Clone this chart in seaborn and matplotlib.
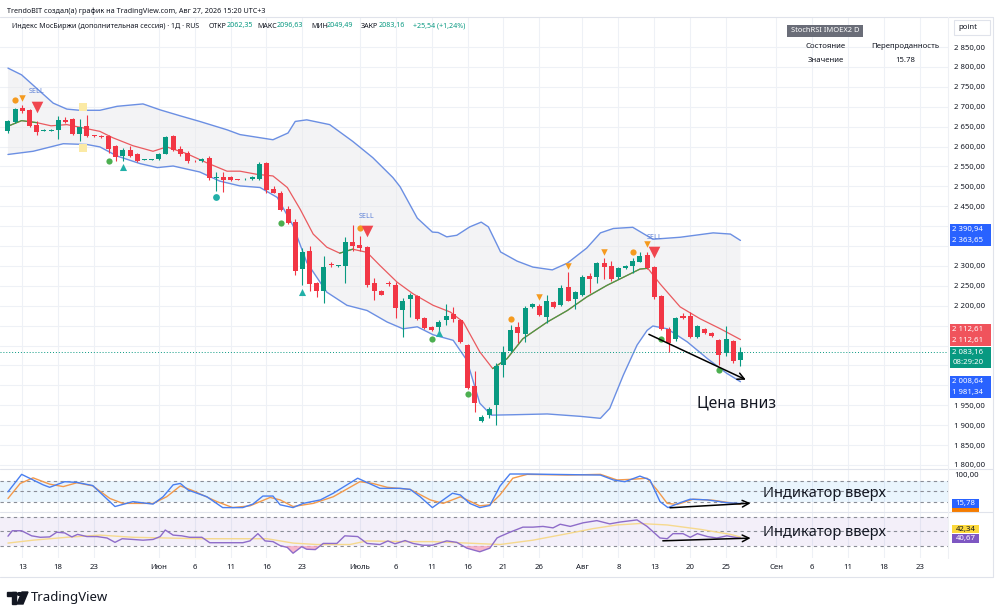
import numpy as np
import matplotlib
matplotlib.use('Agg')
import matplotlib.pyplot as plt
import seaborn as sns
from matplotlib.patches import Rectangle, Circle, Polygon
from matplotlib.transforms import blended_transform_factory

W, H = 1000, 616

# ---------- daily candles, bar index 0..102 ----------
opens = [2638, 2662, 2696, 2692, 2653, 2640, 2640, 2642, 2667, 2670,
         2632, 2652, 2628, 2626, 2626, 2601, 2576, 2592, 2580, 2566,
         2566, 2569, 2582, 2627, 2594, 2584, 2564, 2563, 2572, 2520,
         2524, 2524, 2517, 2518, 2518, 2519, 2559, 2492, 2484, 2442,
         2411, 2292, 2337, 2257, 2236, 2304, 2300, 2301, 2359, 2352,
         2347, 2257, 2238, 2256, 2251, 2188, 2216, 2224, 2169, 2146,
         2147, 2163, 2179, 2165, 2102, 1999, 1911, 1926, 1951, 2051,
         2086, 2146, 2130, 2197, 2198, 2172, 2209, 2202, 2247, 2216,
         2227, 2274, 2272, 2307, 2299, 2272, 2294, 2301, 2311, 2327,
         2297, 2224, 2142, 2117, 2174, 2174, 2122, 2142, 2132, 2113,
         2080, 2111, 2062.35]
highs = [2666, 2697, 2705, 2695, 2663, 2643, 2643, 2676, 2674, 2672,
         2669, 2680, 2630, 2628, 2630, 2605, 2597, 2602, 2583, 2568,
         2568, 2583, 2627, 2629, 2602, 2588, 2566, 2570, 2576, 2536,
         2536, 2526, 2518, 2520, 2525, 2561, 2561, 2502, 2488, 2451,
         2417, 2344, 2351, 2259, 2326, 2309, 2303, 2372, 2402, 2376,
         2350, 2269, 2240, 2261, 2259, 2220, 2232, 2227, 2171, 2148,
         2163, 2205, 2197, 2167, 2104, 2036, 1925, 1945, 2055, 2098,
         2151, 2159, 2199, 2207, 2205, 2226, 2213, 2252, 2284, 2238,
         2276, 2282, 2311, 2319, 2313, 2298, 2303, 2319, 2334, 2336,
         2301, 2227, 2146, 2172, 2182, 2184, 2152, 2145, 2134, 2117,
         2149, 2114, 2096.63]
lows = [2634, 2660, 2684, 2650, 2630, 2638, 2638, 2619, 2659, 2630,
        2613, 2624, 2625, 2622, 2584, 2563, 2563, 2574, 2560, 2565,
        2565, 2567, 2580, 2588, 2576, 2559, 2562, 2562, 2516, 2488,
        2486, 2514, 2515, 2517, 2516, 2517, 2482, 2482, 2438, 2405,
        2276, 2251, 2238, 2222, 2207, 2297, 2298, 2257, 2338, 2338,
        2247, 2215, 2226, 2250, 2169, 2122, 2172, 2163, 2141, 2137,
        2134, 2151, 2159, 2107, 1991, 1934, 1908, 1919, 1901, 2022,
        2084, 2107, 2109, 2194, 2174, 2157, 2195, 2199, 2211, 2191,
        2224, 2232, 2258, 2266, 2263, 2268, 2292, 2282, 2309, 2292,
        2217, 2138, 2084, 2111, 2166, 2119, 2118, 2130, 2122, 2051,
        2074, 2055, 2049.49]
closes = [2663, 2694, 2690, 2651, 2636, 2642, 2642, 2667, 2662, 2632,
          2649, 2627, 2626, 2624, 2594, 2574, 2591, 2577, 2563, 2567,
          2567, 2581, 2624, 2590, 2582, 2563, 2563, 2569, 2522, 2523,
          2517, 2516, 2516, 2519, 2523, 2557, 2490, 2484, 2441, 2407,
          2288, 2336, 2255, 2236, 2297, 2302, 2302, 2361, 2351, 2344,
          2251, 2236, 2228, 2254, 2195, 2213, 2226, 2167, 2144, 2139,
          2159, 2174, 2167, 2109, 1994, 1955, 1921, 1941, 2048, 2084,
          2140, 2132, 2194, 2205, 2176, 2211, 2197, 2245, 2213, 2234,
          2272, 2266, 2307, 2297, 2267, 2294, 2301, 2313, 2326, 2294,
          2222, 2142, 2107, 2169, 2169, 2122, 2149, 2132, 2124, 2077,
          2116, 2061, 2083.16]

# ---------- date axis ----------
tick_pos = [2, 7, 12, 21, 26, 31, 36, 41, 49, 54, 59, 64, 69, 74, 80, 85, 90,
            95, 100, 107, 112, 117, 122, 127]
tick_labels = ['13', '18', '23', 'Июн', '6', '11', '16', '23', 'Июль', '6', '11',
               '16', '21', '26', 'Авг', '8', '13', '20', '25', 'Сен', '6', '11',
               '18', '23']
month_labels = ['Июн', 'Июль', 'Авг', 'Сен']
price_ticks = [1800, 1850, 1900, 1950, 2200, 2250, 2300, 2450, 2500, 2550, 2600,
               2650, 2700, 2750, 2800, 2850]  # the rest sit under the value boxes

# ---------- bollinger bands / middle line (vertices) ----------
bb_up_x = [0, 1.9, 4.5, 6.3, 8.2, 10, 12.8, 15.2, 18.8, 21.2, 24, 26.7, 30.5, 32.3,
           36.9, 39, 40, 41.6, 44.8, 48, 50.8, 53.6, 54.6, 57, 59.1, 59.9, 61.1,
           62.5, 64.3, 65.9, 66.9, 68.6, 70.9, 73.1, 75.8, 77.9, 80.6, 82.5, 84.3,
           87, 89.8, 93.6, 98.2, 100.6, 102]
bb_up_y = [2797, 2780, 2738, 2709, 2694, 2691, 2691, 2701, 2707, 2692, 2677, 2663,
           2642, 2630, 2617, 2634, 2663, 2667, 2655, 2613, 2572, 2522, 2499, 2420,
           2385, 2384, 2373, 2377, 2398, 2410, 2398, 2335, 2312, 2297, 2290, 2307,
           2345, 2383, 2394, 2397, 2367, 2372, 2383, 2380, 2364]
bb_lo_x = [0, 3.5, 7.7, 11, 12.8, 15.2, 18.4, 20.8, 23, 26.7, 29.5, 32.3, 35.1, 37.5,
           39.7, 41.6, 44.4, 47.2, 50, 52.8, 55, 57, 59.2, 62, 63.9, 65.7, 67.3,
           70.3, 75.1, 79.7, 82.5, 83.8, 85.7, 87.6, 89, 89.8, 91.8, 94.6, 97.4,
           100.1, 102]
bb_lo_y = [2580, 2588, 2607, 2605, 2599, 2576, 2557, 2547, 2551, 2536, 2513, 2501,
           2497, 2472, 2401, 2309, 2234, 2201, 2188, 2159, 2142, 2147, 2127, 2113,
           2063, 1955, 1925, 1926, 1928, 1922, 1917, 1942, 2026, 2101, 2138, 2149,
           2142, 2109, 2067, 2030, 2009]
mid_x = [0, 1.9, 4, 6, 8.2, 10.4, 12.8, 14.6, 17.4, 20.2, 22.1, 24.9, 27.7, 30.5,
         32.3, 34.7, 36.9, 38.9, 40.7, 42.5, 44.4, 46.2, 48, 50, 51.8, 54.2, 56.4,
         59.2, 61.6, 63.4, 65.7, 67.5, 69.5, 71.7, 75.1, 77.9, 80.6, 83.4, 86.2, 88,
         89.1, 90.8, 93.6, 96.4, 99.2, 102]
mid_y = [2651, 2665, 2660, 2652, 2655, 2647, 2638, 2622, 2602, 2588, 2599, 2582,
         2559, 2538, 2538, 2530, 2526, 2497, 2442, 2380, 2347, 2332, 2342, 2334,
         2301, 2259, 2230, 2201, 2184, 2159, 2084, 2042, 2067, 2117, 2159, 2188,
         2222, 2251, 2276, 2292, 2294, 2255, 2197, 2167, 2142, 2115]
mid_green_spans = [(0, 4), (46.2, 48), (67.5, 89.1)]

# ---------- signal markers (bar index, price) ----------
orange_dot_x = [1, 49, 70, 87]
orange_dot_y = [2717, 2395, 2167, 2334]
orange_tri_x = [2, 74, 78, 83, 89]
orange_tri_y = [2722, 2222, 2300, 2336, 2355]
sell_x = [4, 50, 90]
sell_y = [2700, 2387, 2334]
sell_text_y = [2737, 2425, 2372]
green_dot_x = [14, 38, 59, 64, 91, 99]
green_dot_y = [2563, 2407, 2117, 1977, 2117, 2038]
teal_tri_x = [16, 41, 60]
teal_tri_y = [2549, 2234, 2132]
teal_dot_x = [29]
teal_dot_y = [2472]
yellow_sq_x = [10.4, 10.4]
yellow_sq_y = [2700, 2597]

# ---------- StochRSI ----------
stoch_k_x = [0, 1.9, 4.9, 5.8, 7.9, 9.6, 11.8, 14.9, 17.4, 20.2, 21.6, 23, 24, 25.1,
             27.7, 29.9, 32.7, 34.1, 35.5, 36.9, 37.9, 39.7, 41.1, 43.5, 45.3, 48.7,
             51.8, 54.6, 56, 57.4, 59.1, 61.9, 63, 64.3, 65.7, 67.1, 68.5, 69.9, 72,
             82.5, 84.3, 85.9, 88, 89.4, 90.8, 91.9, 93.6, 95, 97.4, 100.1, 102]
stoch_k_y = [49, 99, 69, 62, 78, 76, 67, 7, 21, 14, 35, 69, 73, 54, 35, 4, 4, 14, 37,
             37, 12, 4, 16, 26, 45, 88, 59, 59, 56, 35, 4, 45, 40, 16, 4, 10, 65, 100,
             100, 97, 83, 78, 94, 83, 21, 4, 18, 28, 26, 18, 15.78]
stoch_d_x = [0, 1.7, 3.5, 5.8, 7.7, 9.6, 11.8, 14.2, 16, 20.2, 22.1, 24, 25.8, 29.1,
             31.3, 33.7, 36.5, 37.9, 39.7, 42.5, 45.3, 49, 50.8, 52.8, 56, 58.8, 60.6,
             63, 65.7, 67.1, 68.5, 70.3, 72.3, 77.9, 82.5, 84.8, 87, 89, 90.4, 91.8,
             93.2, 95.4, 98.2, 102]
stoch_d_y = [30, 73, 89, 71, 64, 75, 66, 30, 16, 16, 35, 66, 52, 21, 4, 9, 33, 26, 7,
             16, 35, 78, 73, 62, 56, 26, 16, 35, 9, 12, 40, 88, 99, 97, 99, 83, 85, 88,
             54, 16, 13, 28, 25, 13.32]

# ---------- RSI ----------
rsi_x = [0, 0.6, 1.9, 3.3, 4.5, 5.8, 6.8, 7.9, 8.9, 9.7, 11, 12.4, 13.8, 14.9, 15.9,
         17.4, 18.8, 20.2, 21.2, 21.9, 23, 24.2, 25.3, 27, 28.1, 32.7, 33.7, 34.8,
         35.8, 36.9, 37.9, 38.9, 39.7, 40.9, 41.6, 42.8, 43.9, 45.8, 46.9, 48.7, 50,
         51.8, 52.9, 53.9, 55.3, 56.4, 57.8, 59.1, 61.1, 62.5, 63.9, 65.7, 67.1,
         68.1, 68.5, 69.9, 71.7, 73.1, 74.5, 75.9, 76.9, 78.3, 80.1, 82, 83.8, 85.2,
         87.6, 89, 90.8, 91.8, 92.6, 94, 95, 96, 97.4, 98.7, 100.1, 102]
rsi_y = [43.5, 51, 51, 44, 42, 42.5, 49, 48, 42.5, 46, 43, 43, 41, 35, 40, 39, 38,
         39, 43, 52, 45, 44, 42, 42, 34.5, 34.5, 37, 47, 37, 36, 30.5, 28, 20, 29,
         25.5, 25, 33.5, 33.5, 44, 43, 33.5, 32, 37, 33, 37.5, 33.5, 31, 31, 37, 35,
         27, 22, 27, 41, 43, 49, 56, 56, 57, 55, 60, 57, 62, 65, 60.5, 63, 66, 57,
         41, 40, 47, 47, 42, 47, 43, 41, 44, 40.67]
rsi_ma_x = [0, 3.5, 8.2, 12.8, 17.4, 22.1, 26.7, 31.3, 36.1, 39.7, 43, 47.6, 50,
            54.6, 59.2, 63.9, 68.5, 73.1, 77.9, 81.5, 84.8, 88, 91.8, 96.4, 100.6, 102]
rsi_ma_y = [34, 38, 42, 45, 42, 41, 40, 40, 40, 34, 32, 32, 37, 36, 36, 34, 32, 38,
            47, 54, 59, 61, 59, 53, 46, 42.34]

GREEN = '#089981'
RED = '#f23645'
TXT = '#131722'
GRID = '#eef1f6'
BAND = '#6b8fe3'

sns.set_theme(style='white')
plt.rcParams['font.family'] = ['Noto Sans', 'DejaVu Sans']
plt.rcParams['axes.unicode_minus'] = False


def box(x0, y0, x1, y1):
    return [x0 / W, 1 - y1 / H, (x1 - x0) / W, (y1 - y0) / H]


def fmt_price(p):
    return f'{p:,.2f}'.replace(',', ' ').replace('.', ',')


fig = plt.figure(figsize=(W / 100, H / 100), dpi=100, facecolor='white')
ax = fig.add_axes(box(0, 17, 948, 469))
ax_st = fig.add_axes(box(0, 469, 948, 512), sharex=ax)
ax_rsi = fig.add_axes(box(0, 512, 948, 558), sharex=ax)

xmin, xmax = -1.11, 130.9
for a in (ax, ax_st, ax_rsi):
    a.set_facecolor('white')
    for s in a.spines.values():
        s.set_visible(False)
    for t in tick_pos:
        a.axvline(t, color=GRID, lw=0.8, zorder=0)
    a.set_xlim(xmin, xmax)
    a.set_ylabel('')
    a.set_xlabel('')

# ---------- main pane ----------
ax.set_ylim(1789.7, 2925.4)
for p in range(1800, 2851, 50):
    ax.axhline(p, color=GRID, lw=0.8, zorder=0)
ax.yaxis.tick_right()
ax.set_yticks(price_ticks)
ax.set_yticklabels([fmt_price(p) for p in price_ticks])
ax.tick_params(axis='y', length=0, pad=4.3, labelsize=5.6, labelcolor=TXT)
ax.tick_params(axis='x', bottom=False, labelbottom=False)

band_poly_x = list(bb_up_x) + list(bb_lo_x[::-1])
band_poly_y = list(bb_up_y) + list(bb_lo_y[::-1])
ax.fill(band_poly_x, band_poly_y, color='#e9e9ec', alpha=0.5, lw=0, zorder=1)
sns.lineplot(x=bb_up_x, y=bb_up_y, ax=ax, color=BAND, lw=1.0, sort=False,
             estimator=None, legend=False, zorder=2)
sns.lineplot(x=bb_lo_x, y=bb_lo_y, ax=ax, color=BAND, lw=1.0, sort=False,
             estimator=None, legend=False, zorder=2)
sns.lineplot(x=mid_x, y=mid_y, ax=ax, color='#ea5a5f', lw=0.9, sort=False,
             estimator=None, legend=False, zorder=2)
mx = np.array(mid_x)
my = np.array(mid_y)
for a0, a1 in mid_green_spans:
    sel = (mx >= a0) & (mx <= a1)
    ax.plot(mx[sel], my[sel], color='#43a047', lw=0.9, zorder=2.1)

# candles
idx = np.arange(len(opens))
o = np.array(opens)
c = np.array(closes)
col = [GREEN if cc >= oo else RED for oo, cc in zip(o, c)]
ax.vlines(idx, lows, highs, colors=col, lw=0.8, zorder=3)
ax.bar(idx, np.maximum(np.abs(c - o), 1.5), bottom=np.minimum(o, c), width=0.7,
       color=col, lw=0, zorder=4)

ax.axhline(closes[-1], color=GREEN, lw=0.7, ls=(0, (1, 2)), zorder=2.5)

# markers
ax.scatter(orange_dot_x, orange_dot_y, s=20, color='#f59a1e', zorder=5, lw=0)
ax.scatter(orange_tri_x, orange_tri_y, s=22, marker='v', color='#f59a1e', zorder=5, lw=0)
ax.scatter(sell_x, sell_y, s=70, marker='v', color='#f0464f', zorder=5, lw=0)
for sx, sy in zip(sell_x, sell_text_y):
    ax.text(sx, sy, 'SELL', color='#5b7fd6', fontsize=5.2, ha='center', va='center',
            zorder=6)
ax.scatter(green_dot_x, green_dot_y, s=20, color='#4caf50', zorder=5, lw=0)
ax.scatter(teal_tri_x, teal_tri_y, s=26, marker='^', color='#22b0a8', zorder=5, lw=0)
ax.scatter(teal_dot_x, teal_dot_y, s=24, color='#22b0a8', zorder=5, lw=0)
ax.scatter(yellow_sq_x, yellow_sq_y, s=30, marker='s', color='#fbeaa5', zorder=5, lw=0)

# annotation
ax.annotate('', xy=(103.1, 2011), xytext=(88.9, 2131),
            arrowprops=dict(arrowstyle='->', color='black', lw=1.1,
                            mutation_scale=12), zorder=7)
ax.text(101.5, 1955, 'Цена вниз', fontsize=11.3, fontweight='bold', color=TXT,
        ha='center', va='center', zorder=7)

# value boxes on the price scale
tr = blended_transform_factory(ax.transAxes, ax.transData)
price_boxes = [
    ('#2962ff', [('2 390,94', 2390.94), ('2 363,65', 2363.65)]),
    ('#f0535c', [('2 112,61', 2140.0), ('2 112,61', 2112.61)]),
    (GREEN, [('2 083,16', 2083.16), ('08:29:20', 2058.0)]),
    ('#2962ff', [('2 008,64', 2008.64), ('1 981,34', 1981.34)]),
]
for bc, rows in price_boxes:
    top = rows[0][1] + 14
    bot = rows[1][1] - 14
    ax.add_patch(Rectangle((1.0022, bot), 0.0435, top - bot, transform=tr,
                           color=bc, clip_on=False, zorder=8, lw=0))
    for t, v in rows:
        ax.text(1.0045, v, t, transform=tr, color='white', fontsize=5.6,
                va='center', ha='left', clip_on=False, zorder=9)

# ---------- StochRSI pane ----------
ax_st.set_ylim(-8.6, 114.3)
ax_st.axhspan(20, 80, color='#2196f3', alpha=0.09, lw=0, zorder=0.5)
for lv in (80, 50, 20):
    ax_st.axhline(lv, color='#8a8d96', lw=0.8, ls=(0, (3, 3)), zorder=1)
sns.lineplot(x=stoch_d_x, y=stoch_d_y, ax=ax_st, color='#f39a4c', lw=1.0,
             sort=False, estimator=None, legend=False, zorder=2)
sns.lineplot(x=stoch_k_x, y=stoch_k_y, ax=ax_st, color='#4a7ff0', lw=1.0,
             sort=False, estimator=None, legend=False, zorder=3)
ax_st.yaxis.tick_right()
ax_st.set_yticks([100])
ax_st.set_yticklabels(['100,00'])
ax_st.tick_params(axis='y', length=0, pad=4.3, labelsize=5.6, labelcolor=TXT)
ax_st.tick_params(axis='x', bottom=False, labelbottom=False)
ax_st.annotate('', xy=(103.8, 17), xytext=(91.8, 3),
               arrowprops=dict(arrowstyle='->', color='black', lw=1.1,
                               mutation_scale=12), zorder=7)
ax_st.text(105.1, 43, 'Индикатор вверх', fontsize=10.5, color=TXT, va='center',
           ha='left', zorder=7)
trs = blended_transform_factory(ax_st.transAxes, ax_st.transData)
ax_st.add_patch(Rectangle((1.0045, -8.6), 0.0286, 12, transform=trs, color='#f57c00',
                          clip_on=False, zorder=8, lw=0))
ax_st.add_patch(Rectangle((1.0045, 3.4), 0.0286, 25.5, transform=trs, color='#2962ff',
                          clip_on=False, zorder=9, lw=0))
ax_st.text(1.0185, 15.78, '15,78', transform=trs, color='white', fontsize=5.6,
           ha='center', va='center', clip_on=False, zorder=10)

# ---------- RSI pane ----------
ax_rsi.set_ylim(13.4, 76.9)
ax_rsi.axhspan(30, 70, color='#7e57c2', alpha=0.09, lw=0, zorder=0.5)
for lv in (70, 50, 30):
    ax_rsi.axhline(lv, color='#8a8d96', lw=0.8, ls=(0, (3, 3)), zorder=1)
rx = np.array(rsi_x)
ry = np.array(rsi_y)
ax_rsi.fill_between(rx, ry, 30, where=ry < 30, interpolate=True, color='#f6a5c0',
                    alpha=0.8, lw=0, zorder=1.5)
sns.lineplot(x=rsi_ma_x, y=rsi_ma_y, ax=ax_rsi, color='#f6d98e', lw=1.0,
             sort=False, estimator=None, legend=False, zorder=2)
sns.lineplot(x=rsi_x, y=rsi_y, ax=ax_rsi, color='#8e6cc9', lw=1.0,
             sort=False, estimator=None, legend=False, zorder=3)
ax_rsi.set_yticks([])
ax_rsi.set_xticks(tick_pos)
ax_rsi.set_xticklabels(tick_labels)
ax_rsi.tick_params(axis='x', length=0, pad=4, labelsize=5.6, labelcolor=TXT,
                   bottom=True, labelbottom=True)
for lab in ax_rsi.get_xticklabels():
    if lab.get_text() in month_labels:
        lab.set_fontweight('bold')
ax_rsi.annotate('', xy=(103.8, 41), xytext=(90.8, 37),
                arrowprops=dict(arrowstyle='->', color='black', lw=1.1,
                                mutation_scale=12), zorder=7)
ax_rsi.text(105.1, 48, 'Индикатор вверх', fontsize=10.5, color=TXT, va='center',
            ha='left', zorder=7)
trr = blended_transform_factory(ax_rsi.transAxes, ax_rsi.transData)
ax_rsi.add_patch(Rectangle((1.0045, 47.4), 0.0286, 11, transform=trr,
                           color='#fbd83c', clip_on=False, zorder=8, lw=0))
ax_rsi.text(1.0185, 52.9, '42,34', transform=trr, color=TXT, fontsize=5.6,
            ha='center', va='center', clip_on=False, zorder=9)
ax_rsi.add_patch(Rectangle((1.0045, 34.5), 0.0286, 12.5, transform=trr,
                           color='#7e57c2', clip_on=False, zorder=8, lw=0))
ax_rsi.text(1.0185, 40.67, '40,67', transform=trr, color='white', fontsize=5.6,
            ha='center', va='center', clip_on=False, zorder=9)

# ---------- frame, separators, header ----------
def hline(y, x0, x1, color='#e0e3eb'):
    fig.add_artist(plt.Line2D([x0 / W, x1 / W], [1 - y / H, 1 - y / H], color=color,
                              lw=0.8))


def vline(x, y0, y1, color='#e0e3eb'):
    fig.add_artist(plt.Line2D([x / W, x / W], [1 - y0 / H, 1 - y1 / H], color=color,
                              lw=0.8))


hline(17, 0, 993)
hline(469, 0, 993)
hline(512, 0, 993)
hline(577, 0, 993)
vline(993, 17, 577)
vline(948, 17, 558, color='#eef0f4')

fig.text(7 / W, 1 - 11 / H, 'TrendoBIT создал(а) график на TradingView.com, '
         'Авг 27, 2026 15:20 UTC+3', fontsize=5.2, color=TXT, va='center')
legend_parts = [
    (12, 'Индекс МосБиржи (дополнительная сессия) · 1Д · RUS', TXT),
    (209, 'ОТКР', TXT), (227, '2062,35', GREEN),
    (257, 'МАКС', TXT), (277, '2096,63', GREEN),
    (311, 'МИН', TXT), (327, '2049,49', GREEN),
    (361, 'ЗАКР', TXT), (379, '2083,16', GREEN),
    (413, '+25,54 (+1,24%)', GREEN),
]
for lx, lt, lc in legend_parts:
    fig.text(lx / W, 1 - 26 / H, lt, fontsize=5.1, color=lc, va='center')

# StochRSI info table
fig.add_artist(Rectangle((787 / W, 1 - 37 / H), 76 / W, 12 / H, color='#6a6d78',
                         transform=fig.transFigure, lw=0))
fig.text(825 / W, 1 - 31 / H, 'StochRSI IMOEX2 D', fontsize=5.4, color='white',
         ha='center', va='center')
fig.text(826 / W, 1 - 46 / H, 'Состояние', fontsize=5.6, color=TXT, ha='center',
         va='center')
fig.text(905 / W, 1 - 46 / H, 'Перепроданность', fontsize=5.6, color=TXT,
         ha='center', va='center')
fig.text(826 / W, 1 - 61 / H, 'Значение', fontsize=5.6, color=TXT, ha='center',
         va='center')
fig.text(905 / W, 1 - 61 / H, '15.78', fontsize=5.6, color=TXT, ha='center',
         va='center')

# "point" box
fig.add_artist(Rectangle((954 / W, 1 - 35 / H), 36 / W, 15 / H, facecolor='white',
                         edgecolor='#e0e3eb', lw=0.8, transform=fig.transFigure))
fig.text(958 / W, 1 - 27.5 / H, 'point', fontsize=5.6, color=TXT, va='center')

# TradingView logo
logo = [
    Rectangle((7 / W, 1 - 596 / H), 9 / W, 4 / H),
    Rectangle((12 / W, 1 - 604 / H), 4 / W, 12 / H),
    Circle((19.5 / W, 1 - 594 / H), 2.2 / W),
    Polygon([(22 / W, 1 - 592 / H), (28 / W, 1 - 592 / H), (23 / W, 1 - 604 / H),
             (17 / W, 1 - 604 / H)]),
]
for patch in logo:
    patch.set_color(TXT)
    patch.set_transform(fig.transFigure)
    fig.add_artist(patch)
fig.text(31 / W, 1 - 598 / H, 'TradingView', fontsize=9.5, fontweight='bold',
         color=TXT, va='center')

fig.savefig('out.png', dpi=100, facecolor='white')
